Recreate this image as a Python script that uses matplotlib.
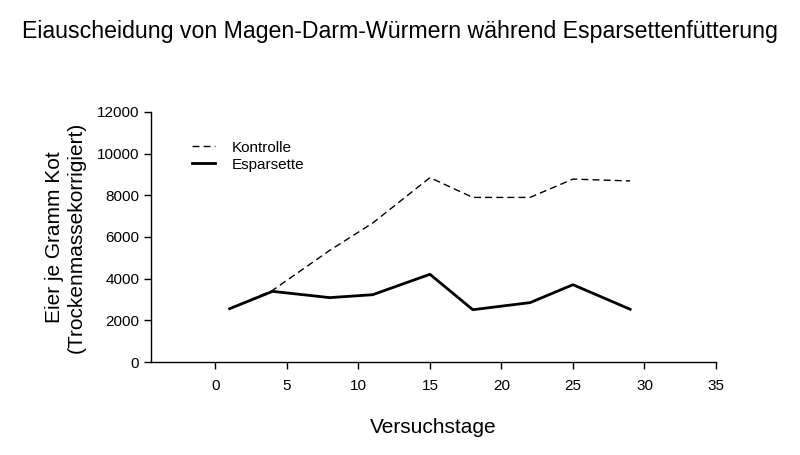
import matplotlib
matplotlib.use("Agg")
import matplotlib.pyplot as plt

plt.rcParams['font.family'] = ['Liberation Sans', 'DejaVu Sans']

# Versuchstage und Eier je Gramm Kot
tage = [1, 4, 8, 11, 15, 18, 22, 25, 29]
kontrolle = [2560, 3440, 5360, 6670, 8850, 7900, 7900, 8780, 8690]
esparsette = [2560, 3390, 3090, 3230, 4210, 2510, 2850, 3710, 2530]

x_ticks = [0, 5, 10, 15, 20, 25, 30, 35]
y_ticks = [0, 2000, 4000, 6000, 8000, 10000, 12000]

fig = plt.figure(figsize=(8, 4.55), dpi=100)
ax = fig.add_axes([151 / 800, 1 - 362 / 455, (716 - 151) / 800, (362 - 112) / 455])

ax.plot(tage, kontrolle, color='black', linestyle=(0, (5, 3)), linewidth=1.0, label='Kontrolle')
ax.plot(tage, esparsette, color='black', linestyle='-', linewidth=2.0, label='Esparsette')

ax.set_xlim(-4.5, 35)
ax.set_ylim(0, 12000)
ax.set_xticks(x_ticks)
ax.set_yticks(y_ticks)
ax.tick_params(labelsize=11, length=5, width=1, direction='out')
ax.tick_params(axis='x', pad=7)

for side in ['top', 'right']:
    ax.spines[side].set_visible(False)
for side in ['left', 'bottom']:
    ax.spines[side].set_linewidth(1.0)

ax.set_xlabel('Versuchstage', fontsize=15, labelpad=18)
ax.set_ylabel('Eier je Gramm Kot\n(Trockenmassekorrigiert)', fontsize=15, labelpad=8)

leg = ax.legend(loc='upper left', bbox_to_anchor=(0.049, 0.94), frameon=False,
                fontsize=11, handlelength=1.5, handletextpad=1.1, labelspacing=0.2)

fig.suptitle('Eiauscheidung von Magen-Darm-Würmern während Esparsettenfütterung',
             fontsize=16.7, x=0.5, y=0.955)

fig.savefig('out.png', dpi=100)
